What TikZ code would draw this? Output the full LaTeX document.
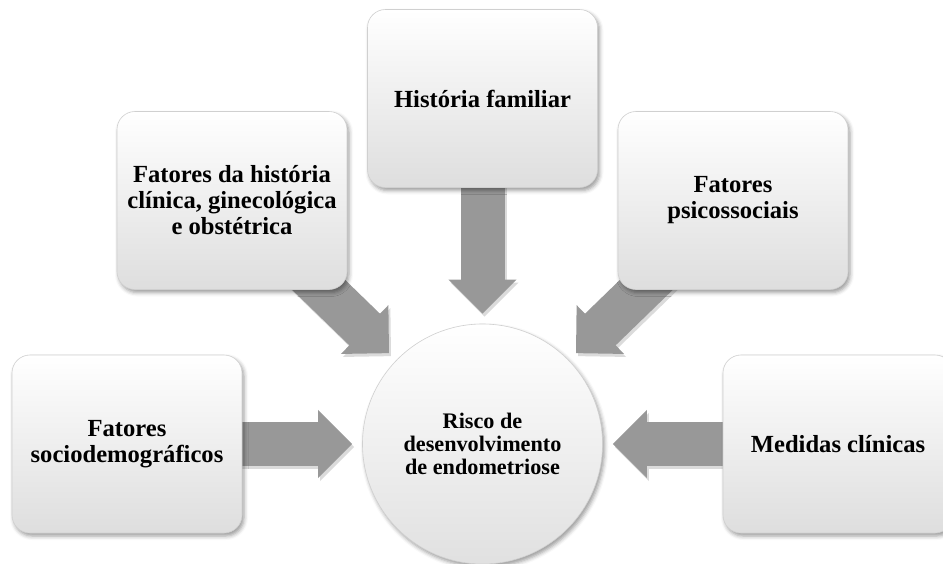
\documentclass[tikz,border=0pt]{standalone}
\usepackage{fontspec}
\setmainfont{Liberation Serif}
\usetikzlibrary{arrows.meta, shadows.blur}
\pgfdeclarelayer{background}
\pgfsetlayers{background,main}
\definecolor{flowgray}{RGB}{152,152,152}
\definecolor{rimgray}{RGB}{208,208,208}
\tikzstyle{factor} = [rectangle, rounded corners=18pt, draw=rimgray, line width=0.6pt,
    top color=white, bottom color=black!13, minimum width=230pt, minimum height=178pt,
    align=center, font=\fontsize{24.6}{26}\selectfont\bfseries,
    blur shadow={shadow xshift=2pt, shadow yshift=-3pt, shadow blur radius=4pt, shadow opacity=40}]
\tikzstyle{outcome} = [circle, draw=rimgray, line width=0.6pt, top color=white, bottom color=black!12,
    minimum size=240pt, align=center, font=\fontsize{22.2}{23}\selectfont\bfseries,
    blur shadow={shadow xshift=2pt, shadow yshift=-3pt, shadow blur radius=4pt, shadow opacity=40}]
\tikzstyle{flow} = [line width=44pt, draw=flowgray, -{Triangle[length=34pt, width=66pt]},
    shorten <=-30pt, shorten >=10pt]
\tikzstyle{flowshade} = [flow, draw=black!14, transform canvas={shift={(2pt,-3pt)}}]

\begin{document}
\begin{tikzpicture}[x=1pt, y=-1pt]
        \useasboundingbox (0,0) rectangle (943,563);

        \node[outcome] (risk) at (482.5,444) {Risco de\\desenvolvimento\\de endometriose};

        \node[factor] (hist) at ([shift={(0,-345.5)}]risk.center) {História familiar};
        \node[factor] (clin) at ([shift={(-250.5,-243.5)}]risk.center) {Fatores da história\\clínica, ginecológica\\e obstétrica};
        \node[factor] (psico) at ([shift={(250.5,-243.5)}]risk.center) {Fatores\\psicossociais};
        \node[factor] (socio) at ([shift={(-355.5,0)}]risk.center) {Fatores\\sociodemográficos};
        \node[factor] (med) at ([shift={(355.5,0)}]risk.center) {Medidas clínicas};

        \begin{pgfonlayer}{background}
            \foreach \src in {hist, clin, psico, socio, med} {
                \draw[flowshade] (\src) -- (risk);
                \draw[flow] (\src) -- (risk);
            }
        \end{pgfonlayer}
\end{tikzpicture}
\end{document}
